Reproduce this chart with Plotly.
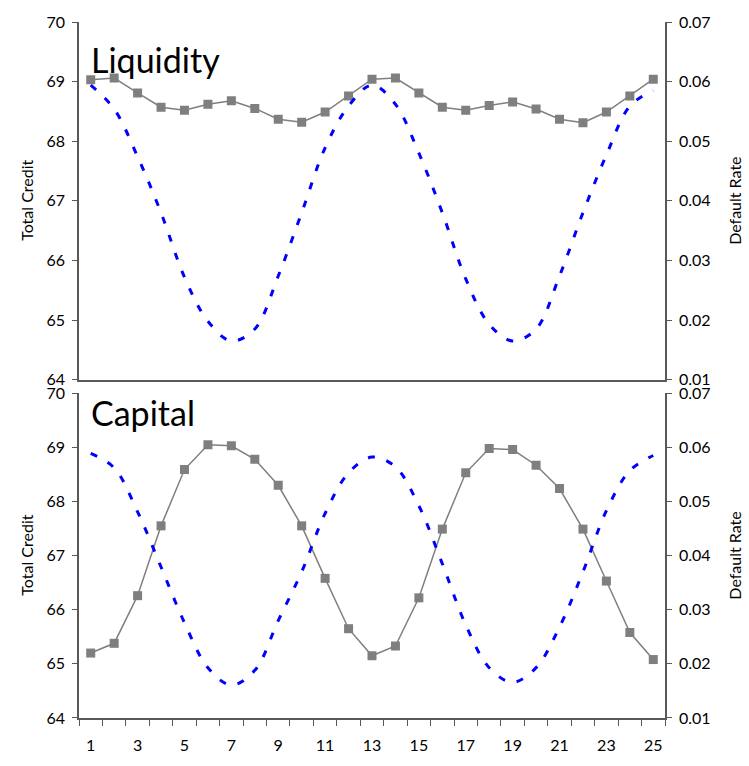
import plotly.graph_objects as go

periods = list(range(1, 26))
x_tick_labels = [str(v) for v in range(1, 26, 2)]

liq_credit = [69.03, 69.06, 68.81, 68.57, 68.52, 68.62, 68.68, 68.55, 68.37, 68.32, 68.49, 68.76, 69.04,
              69.06, 68.81, 68.57, 68.52, 68.60, 68.66, 68.54, 68.37, 68.31, 68.49, 68.76, 69.04]
liq_default = [0.0594, 0.0554, 0.0474, 0.0380, 0.0272, 0.0198, 0.0165, 0.0185, 0.0274, 0.0380, 0.0489, 0.0559, 0.0594,
               0.0562, 0.0480, 0.0380, 0.0269, 0.0193, 0.0165, 0.0185, 0.0274, 0.0380, 0.0477, 0.0559, 0.0585]
cap_credit = [65.20, 65.38, 66.26, 67.55, 68.59, 69.05, 69.03, 68.78, 68.30, 67.55, 66.58, 65.65, 65.15,
              65.33, 66.22, 67.49, 68.53, 68.98, 68.96, 68.67, 68.24, 67.49, 66.53, 65.58, 65.08]
cap_default = [0.0589, 0.0562, 0.0481, 0.0379, 0.0276, 0.0193, 0.0161, 0.0188, 0.0280, 0.0370, 0.0478, 0.0553, 0.0582,
               0.0564, 0.0492, 0.0385, 0.0272, 0.0193, 0.0166, 0.0193, 0.0268, 0.0370, 0.0483, 0.0557, 0.0585]

credit_ticks = [64, 65, 66, 67, 68, 69, 70]
rate_ticks = [0.01, 0.02, 0.03, 0.04, 0.05, 0.06, 0.07]

FONT = "Lato"
GRAY = "#7F7F7F"
AXC = "#595959"

fig = go.Figure()

def credit_trace(y, xa, ya):
    return go.Scatter(x=periods, y=y, xaxis=xa, yaxis=ya, mode="lines+markers",
                      line=dict(color=GRAY, width=1.5),
                      marker=dict(symbol="square", size=9, color=GRAY),
                      showlegend=False)

def rate_trace(y, xa, ya):
    return go.Scatter(x=periods, y=y, xaxis=xa, yaxis=ya, mode="lines",
                      line=dict(color="#0000FF", width=3, dash="7px,12px", shape="spline"),
                      showlegend=False)

fig.add_trace(rate_trace(liq_default, "x", "y2"))
fig.add_trace(credit_trace(liq_credit, "x", "y"))
fig.add_trace(rate_trace(cap_default, "x2", "y4"))
fig.add_trace(credit_trace(cap_credit, "x2", "y3"))

top_dom = [0.4861, 1.0]
bot_dom = [0.0, 0.4666]

yleft = dict(range=[64, 70], tickvals=credit_ticks, ticks="outside", ticklen=5, tickcolor=AXC,
             showline=True, linecolor=AXC, linewidth=1.5, showgrid=False, zeroline=False,
             tickfont=dict(family=FONT, size=16, color="#000"), ticklabelstandoff=4)
yright = dict(range=[0.01, 0.07], tickvals=rate_ticks, tickformat=".2f", ticks="outside", ticklen=5,
              tickcolor=AXC, showline=True, linecolor=AXC, linewidth=1.5, showgrid=False, zeroline=False,
              side="right", tickfont=dict(family=FONT, size=16, color="#000"), ticklabelstandoff=4)

fig.update_layout(
    width=749, height=766,
    margin=dict(l=79, r=84, t=13, b=35),
    paper_bgcolor="white", plot_bgcolor="white",
    font=dict(family=FONT, color="#000"),
    xaxis=dict(domain=[0, 1], anchor="y", range=[0.5, 25.5], showticklabels=False, ticks="",
               showline=True, linecolor=AXC, linewidth=1.5, showgrid=False, zeroline=False),
    xaxis2=dict(domain=[0, 1], anchor="y3", range=[0.5, 25.5], tickvals=list(range(1, 26, 2)),
                ticktext=x_tick_labels, ticks="", showline=True, linecolor=AXC, linewidth=1.5,
                showgrid=False, zeroline=False, tickfont=dict(family=FONT, size=16, color="#000"),
                ticklabelstandoff=12,
                minor=dict(tickvals=[v + 0.5 for v in range(0, 26)], ticks="outside", ticklen=6,
                           tickcolor=AXC, showgrid=False)),
    yaxis=dict(domain=top_dom, anchor="x", **yleft),
    yaxis2=dict(domain=top_dom, anchor="x", overlaying="y", **yright),
    yaxis3=dict(domain=bot_dom, anchor="x2", **yleft),
    yaxis4=dict(domain=bot_dom, anchor="x2", overlaying="y3", **yright),
)

anns = [
    dict(text="Liquidity", xref="x domain", yref="y domain", x=0.017, y=0.895, xanchor="left", yanchor="middle",
         font=dict(family=FONT, size=34, color="#000"), showarrow=False),
    dict(text="Capital", xref="x2 domain", yref="y3 domain", x=0.017, y=0.94, xanchor="left", yanchor="middle",
         font=dict(family=FONT, size=34, color="#000"), showarrow=False),
    dict(text="Total Credit", xref="paper", yref="y", x=0, y=67, xanchor="center", yanchor="middle",
         textangle=-90, font=dict(family=FONT, size=16, color="#000"), showarrow=False, xshift=-52),
    dict(text="Total Credit", xref="paper", yref="y3", x=0, y=67, xanchor="center", yanchor="middle",
         textangle=-90, font=dict(family=FONT, size=16, color="#000"), showarrow=False, xshift=-52),
    dict(text="Default Rate", xref="paper", yref="y", x=1, y=67, xanchor="center", yanchor="middle",
         textangle=-90, font=dict(family=FONT, size=16, color="#000"), showarrow=False, xshift=70),
    dict(text="Default Rate", xref="paper", yref="y3", x=1, y=67, xanchor="center", yanchor="middle",
         textangle=-90, font=dict(family=FONT, size=16, color="#000"), showarrow=False, xshift=70),
]
fig.update_layout(annotations=anns)

fig.write_html("out.html")
